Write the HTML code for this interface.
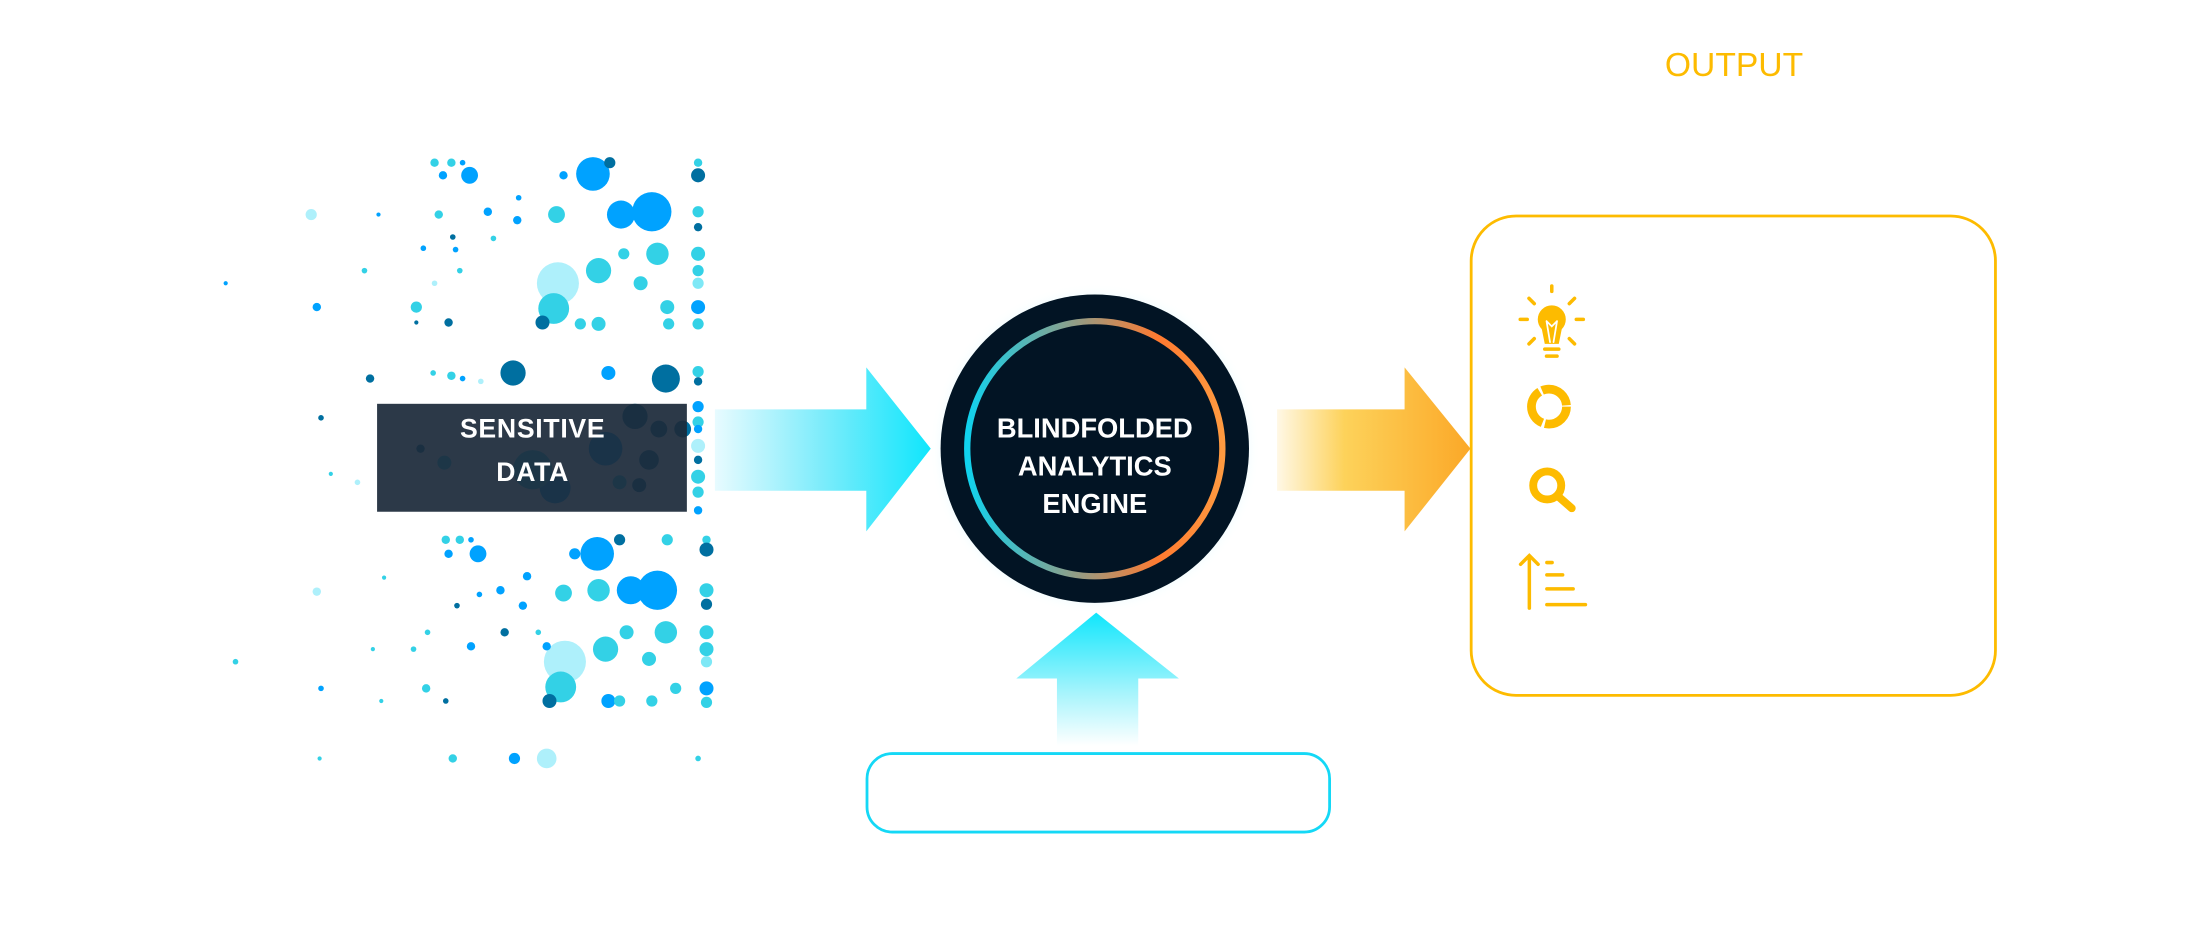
<!DOCTYPE html>
<html><head><meta charset="utf-8"><style>
html,body{margin:0;padding:0;background:#fff;width:2198px;height:952px;overflow:hidden}
svg{display:block}
</style></head><body>
<svg width="2198" height="952" viewBox="0 0 1568 679" xmlns="http://www.w3.org/2000/svg">
<defs>
<linearGradient id="la" x1="0" x2="1" y1="0" y2="0"><stop offset="0" stop-color="#e8fbff"/><stop offset="0.5" stop-color="#7cecfb"/><stop offset="1" stop-color="#10e6fc"/></linearGradient>
<linearGradient id="ra" x1="0" x2="1" y1="0" y2="0"><stop offset="0" stop-color="#fff8e6"/><stop offset="0.35" stop-color="#fdd25a"/><stop offset="1" stop-color="#fba828"/></linearGradient>
<linearGradient id="ua" x1="0" x2="0" y1="1" y2="0"><stop offset="0" stop-color="#ffffff"/><stop offset="0.4" stop-color="#a6f4fc"/><stop offset="1" stop-color="#10e6fc"/></linearGradient>
<linearGradient id="ring" x1="0" x2="1" y1="0" y2="0"><stop offset="0" stop-color="#10d2ee"/><stop offset="0.45" stop-color="#9a9a80"/><stop offset="0.75" stop-color="#ff7a30"/><stop offset="1" stop-color="#ff9a40"/></linearGradient>
<radialGradient id="glow"><stop offset="0.85" stop-color="#d8fbff"/><stop offset="1" stop-color="#ffffff" stop-opacity="0"/></radialGradient>
</defs>

<g>
<circle cx="423" cy="124" r="12" fill="#00a2ff"/>
<circle cx="465" cy="151" r="14" fill="#00a2ff"/>
<circle cx="443" cy="153" r="10" fill="#00a2ff"/>
<circle cx="398" cy="202" r="15" fill="#aef0fb"/>
<circle cx="395" cy="220" r="11" fill="#33d1e6"/>
<circle cx="427" cy="193" r="9" fill="#33d1e6"/>
<circle cx="469" cy="181" r="8" fill="#33d1e6"/>
<circle cx="457" cy="202" r="5" fill="#33d1e6"/>
<circle cx="475" cy="270" r="10" fill="#006fa0"/>
<circle cx="366" cy="266" r="9" fill="#006fa0"/>
<circle cx="335" cy="125" r="6" fill="#00a2ff"/>
<circle cx="397" cy="153" r="6" fill="#33d1e6"/>
<circle cx="435" cy="116" r="4" fill="#006fa0"/>
<circle cx="434" cy="266" r="5" fill="#00a2ff"/>
<circle cx="387" cy="230" r="5" fill="#006fa0"/>
<circle cx="427" cy="231" r="5" fill="#33d1e6"/>
<circle cx="414" cy="231" r="4" fill="#33d1e6"/>
<circle cx="476" cy="219" r="5" fill="#33d1e6"/>
<circle cx="477" cy="231" r="4" fill="#33d1e6"/>
<circle cx="445" cy="181" r="4" fill="#33d1e6"/>
<circle cx="498" cy="116" r="3" fill="#33d1e6"/>
<circle cx="498" cy="125" r="5" fill="#006fa0"/>
<circle cx="498" cy="151" r="4" fill="#33d1e6"/>
<circle cx="498" cy="162" r="3" fill="#006fa0"/>
<circle cx="498" cy="181" r="5" fill="#33d1e6"/>
<circle cx="498" cy="193" r="4" fill="#33d1e6"/>
<circle cx="498" cy="202" r="4" fill="#7ee8f6"/>
<circle cx="498" cy="219" r="5" fill="#00a2ff"/>
<circle cx="498" cy="231" r="4" fill="#33d1e6"/>
<circle cx="498" cy="265" r="4" fill="#33d1e6"/>
<circle cx="498" cy="272" r="3" fill="#006fa0"/>
<circle cx="222" cy="153" r="4" fill="#aef0fb"/>
<circle cx="297" cy="219" r="4" fill="#33d1e6"/>
<circle cx="226" cy="219" r="3" fill="#00a2ff"/>
<circle cx="310" cy="116" r="3" fill="#33d1e6"/>
<circle cx="322" cy="116" r="3" fill="#33d1e6"/>
<circle cx="330" cy="116" r="2" fill="#00a2ff"/>
<circle cx="370" cy="141" r="2" fill="#00a2ff"/>
<circle cx="402" cy="125" r="3" fill="#00a2ff"/>
<circle cx="316" cy="125" r="3" fill="#00a2ff"/>
<circle cx="302" cy="177" r="2" fill="#00a2ff"/>
<circle cx="325" cy="178" r="2" fill="#00a2ff"/>
<circle cx="348" cy="151" r="3" fill="#00a2ff"/>
<circle cx="369" cy="157" r="3" fill="#00a2ff"/>
<circle cx="352" cy="170" r="2" fill="#33d1e6"/>
<circle cx="313" cy="153" r="3" fill="#33d1e6"/>
<circle cx="323" cy="169" r="2" fill="#006fa0"/>
<circle cx="260" cy="193" r="2" fill="#33d1e6"/>
<circle cx="310" cy="202" r="2" fill="#aef0fb"/>
<circle cx="328" cy="193" r="2" fill="#33d1e6"/>
<circle cx="270" cy="153" r="1.5" fill="#00a2ff"/>
<circle cx="161" cy="202" r="1.5" fill="#00a2ff"/>
<circle cx="320" cy="230" r="3" fill="#006fa0"/>
<circle cx="297" cy="230" r="1.5" fill="#006fa0"/>
<circle cx="264" cy="270" r="3" fill="#006fa0"/>
<circle cx="309" cy="266" r="2" fill="#33d1e6"/>
<circle cx="322" cy="268" r="3" fill="#33d1e6"/>
<circle cx="330" cy="270" r="2" fill="#00a2ff"/>
<circle cx="343" cy="272" r="2" fill="#aef0fb"/>
<circle cx="229" cy="298" r="2" fill="#006fa0"/>
<circle cx="255" cy="344" r="2" fill="#aef0fb"/>
<circle cx="236" cy="338" r="1.5" fill="#33d1e6"/>
<circle cx="453" cy="297" r="9" fill="#006fa0"/>
<circle cx="463" cy="328" r="7" fill="#006fa0"/>
<circle cx="396" cy="348" r="11" fill="#00a2ff"/>
<circle cx="380" cy="335" r="14" fill="#33d1e6"/>
<circle cx="432" cy="320" r="12" fill="#00a2ff"/>
<circle cx="470" cy="306" r="6" fill="#006fa0"/>
<circle cx="442" cy="344" r="5" fill="#33d1e6"/>
<circle cx="456" cy="346" r="5" fill="#006fa0"/>
<circle cx="300" cy="320" r="3" fill="#006fa0"/>
<circle cx="317" cy="330" r="5" fill="#33d1e6"/>
<circle cx="487" cy="306" r="6" fill="#006fa0"/>
<circle cx="498" cy="290" r="4" fill="#00a2ff"/>
<circle cx="498" cy="301" r="4" fill="#33d1e6"/>
<circle cx="498" cy="306" r="3" fill="#00a2ff"/>
<circle cx="498" cy="318" r="5" fill="#aef0fb"/>
<circle cx="498" cy="328" r="3" fill="#006fa0"/>
<circle cx="498" cy="340" r="5" fill="#33d1e6"/>
<circle cx="498" cy="351" r="4" fill="#33d1e6"/>
<circle cx="498" cy="364" r="3" fill="#00a2ff"/>
<circle cx="426" cy="395" r="12" fill="#00a2ff"/>
<circle cx="469" cy="421" r="14" fill="#00a2ff"/>
<circle cx="450" cy="421" r="10" fill="#00a2ff"/>
<circle cx="403" cy="472" r="15" fill="#aef0fb"/>
<circle cx="400" cy="490" r="11" fill="#33d1e6"/>
<circle cx="432" cy="463" r="9" fill="#33d1e6"/>
<circle cx="475" cy="451" r="8" fill="#33d1e6"/>
<circle cx="427" cy="421" r="8" fill="#33d1e6"/>
<circle cx="402" cy="423" r="6" fill="#33d1e6"/>
<circle cx="341" cy="395" r="6" fill="#00a2ff"/>
<circle cx="442" cy="385" r="4" fill="#006fa0"/>
<circle cx="434" cy="500" r="5" fill="#00a2ff"/>
<circle cx="392" cy="500" r="5" fill="#006fa0"/>
<circle cx="463" cy="470" r="5" fill="#33d1e6"/>
<circle cx="465" cy="500" r="4" fill="#33d1e6"/>
<circle cx="482" cy="491" r="4" fill="#33d1e6"/>
<circle cx="447" cy="451" r="5" fill="#33d1e6"/>
<circle cx="442" cy="500" r="4" fill="#33d1e6"/>
<circle cx="476" cy="385" r="4" fill="#33d1e6"/>
<circle cx="504" cy="385" r="3" fill="#33d1e6"/>
<circle cx="504" cy="392" r="5" fill="#006fa0"/>
<circle cx="504" cy="421" r="5" fill="#33d1e6"/>
<circle cx="504" cy="431" r="4" fill="#006fa0"/>
<circle cx="504" cy="451" r="5" fill="#33d1e6"/>
<circle cx="504" cy="463" r="5" fill="#33d1e6"/>
<circle cx="504" cy="472" r="4" fill="#7ee8f6"/>
<circle cx="504" cy="491" r="5" fill="#00a2ff"/>
<circle cx="504" cy="501" r="4" fill="#33d1e6"/>
<circle cx="390" cy="541" r="7" fill="#aef0fb"/>
<circle cx="367" cy="541" r="4" fill="#00a2ff"/>
<circle cx="323" cy="541" r="3" fill="#33d1e6"/>
<circle cx="498" cy="541" r="2" fill="#33d1e6"/>
<circle cx="229" cy="491" r="2" fill="#00a2ff"/>
<circle cx="226" cy="422" r="3" fill="#aef0fb"/>
<circle cx="318" cy="385" r="3" fill="#33d1e6"/>
<circle cx="328" cy="385" r="3" fill="#33d1e6"/>
<circle cx="336" cy="385" r="2" fill="#00a2ff"/>
<circle cx="320" cy="395" r="3" fill="#00a2ff"/>
<circle cx="376" cy="411" r="3" fill="#00a2ff"/>
<circle cx="410" cy="395" r="4" fill="#00a2ff"/>
<circle cx="357" cy="421" r="3" fill="#00a2ff"/>
<circle cx="326" cy="432" r="2" fill="#006fa0"/>
<circle cx="342" cy="424" r="2" fill="#00a2ff"/>
<circle cx="373" cy="432" r="3" fill="#00a2ff"/>
<circle cx="384" cy="451" r="2" fill="#33d1e6"/>
<circle cx="390" cy="461" r="3" fill="#00a2ff"/>
<circle cx="360" cy="451" r="3" fill="#006fa0"/>
<circle cx="336" cy="461" r="3" fill="#00a2ff"/>
<circle cx="304" cy="491" r="3" fill="#33d1e6"/>
<circle cx="318" cy="500" r="2" fill="#006fa0"/>
<circle cx="305" cy="451" r="2" fill="#33d1e6"/>
<circle cx="295" cy="463" r="2" fill="#33d1e6"/>
<circle cx="266" cy="463" r="1.5" fill="#33d1e6"/>
<circle cx="168" cy="472" r="2" fill="#33d1e6"/>
<circle cx="274" cy="412" r="1.5" fill="#33d1e6"/>
<circle cx="272" cy="500" r="1.5" fill="#33d1e6"/>
<circle cx="228" cy="541" r="1.5" fill="#33d1e6"/>
</g>

<rect x="269" y="288" width="221" height="77" fill="#1c2a3a" fill-opacity="0.93"/>
<text x="380" y="312" font-family="Liberation Sans, sans-serif" font-weight="bold" font-size="19" fill="#fff" text-anchor="middle" letter-spacing="0.5">SENSITIVE</text>
<text x="380" y="343" font-family="Liberation Sans, sans-serif" font-weight="bold" font-size="19" fill="#fff" text-anchor="middle" letter-spacing="0.5">DATA</text>

<path d="M510 292 H618 V262 L664 320 L618 379 V350 H510 Z" fill="url(#la)"/>
<path d="M911 292 H1002 V262 L1049 320 L1002 379 V350 H911 Z" fill="url(#ra)"/>
<path d="M754 532 V484 H725 L782 437 L841 484 H812 V532 Z" fill="url(#ua)"/>

<circle cx="781" cy="320" r="118" fill="url(#glow)"/>
<circle cx="781" cy="320" r="110" fill="#021424"/>
<circle cx="781" cy="320" r="91" fill="none" stroke="url(#ring)" stroke-width="4.5"/>
<g font-family="Liberation Sans, sans-serif" font-weight="bold" font-size="19.5" fill="#fff" text-anchor="middle">
<text x="781" y="312">BLINDFOLDED</text>
<text x="781" y="339">ANALYTICS</text>
<text x="781" y="366">ENGINE</text>
</g>

<rect x="618.5" y="537.5" width="330" height="56" rx="18" fill="none" stroke="#14d8f6" stroke-width="2"/>

<text x="1237" y="54" font-family="Liberation Sans, sans-serif" font-size="24" fill="#fdbb00" text-anchor="middle">OUTPUT</text>
<rect x="1049.5" y="154" width="374" height="342" rx="32" fill="none" stroke="#fdbb00" stroke-width="2"/>

<g fill="#fdbb00" stroke="#fdbb00" stroke-linecap="round">
<g transform="translate(1107,229) scale(1.25) translate(-1107,-229)">
<circle cx="1107" cy="228" r="8" stroke="none"/>
<path d="M1101 232 L1103 242 H1111 L1113 232 Z" stroke="none"/>
<path d="M1104 229 L1106 241 M1110 229 L1108 241 M1104 229 L1107 232 L1110 229" stroke="#fff" stroke-width="1" fill="none"/>
<line x1="1103" y1="245" x2="1111" y2="245" stroke-width="2"/>
<line x1="1104" y1="249" x2="1110" y2="249" stroke-width="2"/>
<line x1="1107" y1="209" x2="1107" y2="212" stroke-width="2"/>
<line x1="1094" y1="216" x2="1097" y2="219" stroke-width="2"/>
<line x1="1120" y1="216" x2="1117" y2="219" stroke-width="2"/>
<line x1="1089" y1="228" x2="1093" y2="228" stroke-width="2"/>
<line x1="1121" y1="228" x2="1125" y2="228" stroke-width="2"/>
<line x1="1094" y1="242" x2="1097" y2="239" stroke-width="2"/>
<line x1="1120" y1="242" x2="1117" y2="239" stroke-width="2"/>
</g>
<g transform="translate(1105,290) scale(1.25) translate(-1105,-290)">
<circle cx="1105" cy="290" r="10" fill="none" stroke-width="5" stroke-linecap="butt" stroke-dasharray="18 1.5 22 1.5 19 1.5"/>
</g>
<g transform="translate(1105,350) scale(1.25) translate(-1105,-350)">
<circle cx="1104" cy="347" r="8" fill="none" stroke-width="4.5"/>
<line x1="1110" y1="353" x2="1118" y2="360" stroke-width="4.5"/>
</g>
<g transform="translate(1106,415) scale(1.25) translate(-1106,-415)">
<line x1="1094" y1="401" x2="1094" y2="430" stroke-width="2"/>
<polyline points="1089,405 1094,400 1099,405" fill="none" stroke-width="2"/>
<line x1="1104" y1="404" x2="1107" y2="404" stroke-width="2"/>
<line x1="1104" y1="411" x2="1113" y2="411" stroke-width="2"/>
<line x1="1104" y1="419" x2="1119" y2="419" stroke-width="2"/>
<line x1="1104" y1="428" x2="1126" y2="428" stroke-width="2"/>
</g>
</g>
</svg>
</body></html>
